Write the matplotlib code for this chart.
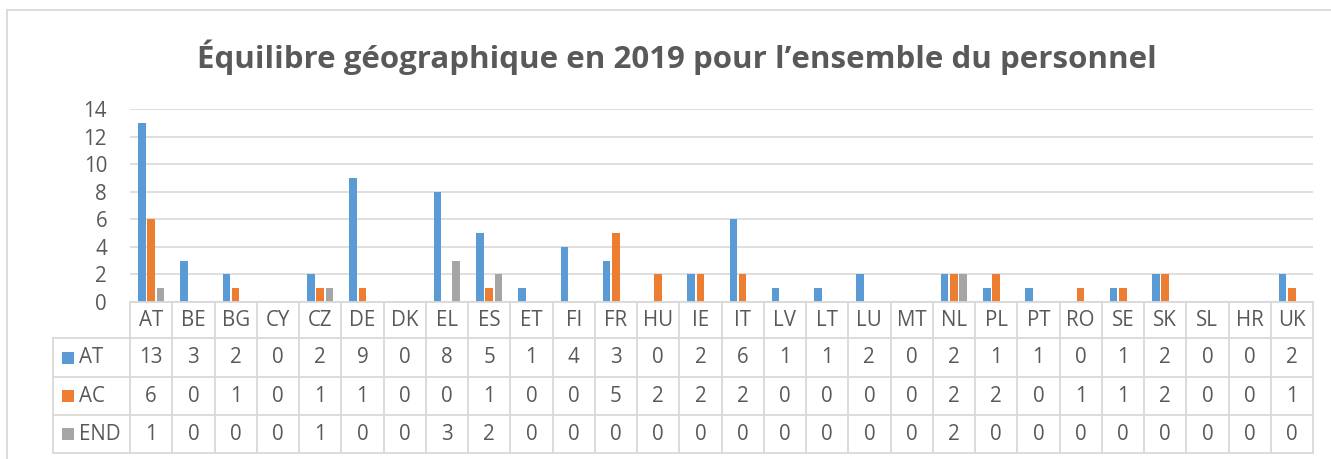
import matplotlib.pyplot as plt
import matplotlib.transforms as mtransforms
from matplotlib.lines import Line2D
from matplotlib.patches import Rectangle
import numpy as np

# Country codes shown along the x axis and in the data table
countries = ["AT", "BE", "BG", "CY", "CZ", "DE", "DK", "EL", "ES", "ET",
             "FI", "FR", "HU", "IE", "IT", "LV", "LT", "LU", "MT", "NL",
             "PL", "PT", "RO", "SE", "SK", "SL", "HR", "UK"]

# Staff counts per category
at_values = [13, 3, 2, 0, 2, 9, 0, 8, 5, 1, 4, 3, 0, 2, 6, 1, 1, 2, 0, 2,
             1, 1, 0, 1, 2, 0, 0, 2]
ac_values = [6, 0, 1, 0, 1, 1, 0, 0, 1, 0, 0, 5, 2, 2, 2, 0, 0, 0, 0, 2,
             2, 0, 1, 1, 2, 0, 0, 1]
end_values = [1, 0, 0, 0, 1, 0, 0, 3, 2, 0, 0, 0, 0, 0, 0, 0, 0, 0, 0, 2,
              0, 0, 0, 0, 0, 0, 0, 0]

series_names = ["AT", "AC", "END"]
series_values = [at_values, ac_values, end_values]
colors = ["#5B9BD5", "#ED7D31", "#A5A5A5"]

title = "Équilibre géographique en 2019 pour l’ensemble du personnel"
text_color = "#595959"
line_color = "#D9D9D9"

plt.rcParams["font.family"] = ["Open Sans", "DejaVu Sans"]

W, H = 1331, 459
fig = plt.figure(figsize=(W / 100, H / 100), dpi=100)


def fx(px):
    return px / W


def fy(px):
    return 1 - px / H


# Plot area in pixel positions of the reference
left_px, right_px, top_px, bottom_px = 130, 1313, 109, 302
ax = fig.add_axes([fx(left_px), fy(bottom_px),
                   fx(right_px) - fx(left_px), fy(top_px) - fy(bottom_px)])

x = np.arange(len(countries))
pitch = 0.22
bar_w = 0.18
for i, (vals, col) in enumerate(zip(series_values, colors)):
    ax.bar(x + (i - 1) * pitch, vals, width=bar_w, color=col, zorder=3)

fs = 14.8

ax.set_xlim(-0.5, len(countries) - 0.5)
ax.set_ylim(0, 14)
ax.set_yticks(range(0, 15, 2))
ax.yaxis.grid(True, color=line_color, linewidth=1.2, zorder=0)
ax.set_xticks([])
ax.tick_params(axis="y", length=0, labelsize=fs, labelcolor=text_color, pad=16.5)
for s in ax.spines.values():
    s.set_visible(False)

# Data table under the plot
trans = mtransforms.blended_transform_factory(ax.transData, fig.transFigure)
row_px = [302, 338, 377, 415, 453]
legend_left = 53


def add_line(xs, ys, transform):
    fig.add_artist(Line2D(xs, ys, color=line_color, linewidth=1.3,
                          transform=transform))


# horizontal lines
add_line([-0.5, len(countries) - 0.5], [fy(row_px[0])] * 2, trans)
for r in row_px[1:]:
    add_line([fx(legend_left), fx(right_px)], [fy(r)] * 2, fig.transFigure)
# vertical lines between columns
for k in range(len(countries) + 1):
    add_line([k - 0.5, k - 0.5], [fy(row_px[0]), fy(row_px[-1])], trans)
add_line([fx(legend_left)] * 2, [fy(row_px[1]), fy(row_px[-1])], fig.transFigure)

# header row
for k, c in enumerate(countries):
    fig.text(k, (fy(row_px[0]) + fy(row_px[1])) / 2, c, transform=trans,
             ha="center", va="center", fontsize=fs, color=text_color)

# series rows
for i, (name, vals, col) in enumerate(zip(series_names, series_values, colors)):
    yc = (fy(row_px[i + 1]) + fy(row_px[i + 2])) / 2
    fig.add_artist(Rectangle((fx(62), yc - 6 / H), 12 / W, 12 / H,
                             facecolor=col, edgecolor="none",
                             transform=fig.transFigure))
    fig.text(fx(79), yc, name, ha="left", va="center", fontsize=fs,
             color=text_color)
    for k, v in enumerate(vals):
        fig.text(k, yc, str(v), transform=trans, ha="center", va="center",
                 fontsize=fs, color=text_color)

# chart border (left and top edges visible)
add_line([fx(7), fx(7)], [fy(10), 0], fig.transFigure)
add_line([fx(7), 1], [fy(10), fy(10)], fig.transFigure)

fig.text(fx(677), fy(57), title, ha="center", va="center", fontsize=22.5,
         fontweight="bold", color=text_color)

fig.savefig("out.png", dpi=100, facecolor="white")
